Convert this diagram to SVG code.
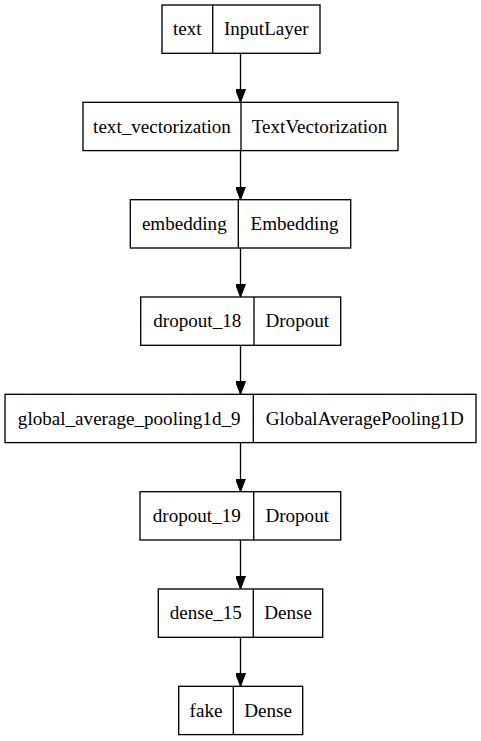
<svg xmlns="http://www.w3.org/2000/svg" width="481" height="741" viewBox="0 0 481 741">
<style>
rect.b{fill:#fff;stroke:#000;stroke-width:1.33}
line.d{stroke:#000;stroke-width:1.33}
text{font-family:"Liberation Serif","Times New Roman",serif;font-size:19.1px;fill:#000;text-anchor:middle}
.e{stroke:#000;stroke-width:1.33;fill:none}
</style>
<defs>
<marker id="ah" markerUnits="userSpaceOnUse" markerWidth="13" markerHeight="10" refX="13" refY="5" orient="auto">
<path d="M0,0 L13,5 L0,10 z" fill="#000" stroke="#000" stroke-width="1"/>
</marker>
</defs>
<rect width="481" height="741" fill="#fff"/>
<g id="connectors">
<line class="e" x1="240.5" y1="53.3" x2="240.5" y2="102.3" marker-end="url(#ah)"/>
<line class="e" x1="240.5" y1="150.7" x2="240.5" y2="199.7" marker-end="url(#ah)"/>
<line class="e" x1="240.5" y1="248" x2="240.5" y2="297" marker-end="url(#ah)"/>
<line class="e" x1="240.5" y1="345.3" x2="240.5" y2="394.3" marker-end="url(#ah)"/>
<line class="e" x1="240.5" y1="442.7" x2="240.5" y2="491.7" marker-end="url(#ah)"/>
<line class="e" x1="240.5" y1="540" x2="240.5" y2="589" marker-end="url(#ah)"/>
<line class="e" x1="240.5" y1="637.3" x2="240.5" y2="686.3" marker-end="url(#ah)"/>
</g>
<g id="text_node">
<rect class="b" x="162" y="5" width="158" height="48.3"/>
<line class="d" x1="212.7" y1="5" x2="212.7" y2="53.3"/>
<text x="187.3" y="35.3">text</text>
<text x="266.3" y="35.3">InputLayer</text>
</g>
<g id="text_vectorization">
<rect class="b" x="83" y="102.3" width="315" height="48.3"/>
<line class="d" x1="241" y1="102.3" x2="241" y2="150.7"/>
<text x="162" y="132.7">text_vectorization</text>
<text x="319.5" y="132.7">TextVectorization</text>
</g>
<g id="embedding">
<rect class="b" x="130.3" y="199.7" width="220.4" height="48.3"/>
<line class="d" x1="238.3" y1="199.7" x2="238.3" y2="248"/>
<text x="184.3" y="230">embedding</text>
<text x="294.5" y="230">Embedding</text>
</g>
<g id="dropout_18">
<rect class="b" x="140.7" y="297" width="200" height="48.3"/>
<line class="d" x1="254" y1="297" x2="254" y2="345.3"/>
<text x="197.3" y="327.3">dropout_18</text>
<text x="297.3" y="327.3">Dropout</text>
</g>
<g id="global_average_pooling1d_9">
<rect class="b" x="5" y="394.3" width="471" height="48.3"/>
<line class="d" x1="253.3" y1="394.3" x2="253.3" y2="442.7"/>
<text x="129.2" y="424.7">global_average_pooling1d_9</text>
<text x="364.7" y="424.7">GlobalAveragePooling1D</text>
</g>
<g id="dropout_19">
<rect class="b" x="140" y="491.7" width="200.7" height="48.3"/>
<line class="d" x1="253.7" y1="491.7" x2="253.7" y2="540"/>
<text x="196.8" y="522">dropout_19</text>
<text x="297.2" y="522">Dropout</text>
</g>
<g id="dense_15">
<rect class="b" x="158.3" y="589" width="164.4" height="48.3"/>
<line class="d" x1="253.3" y1="589" x2="253.3" y2="637.3"/>
<text x="205.8" y="619.3">dense_15</text>
<text x="288" y="619.3">Dense</text>
</g>
<g id="fake">
<rect class="b" x="178.7" y="686.3" width="124" height="48.3"/>
<line class="d" x1="233.3" y1="686.3" x2="233.3" y2="734.7"/>
<text x="206" y="716.7">fake</text>
<text x="268" y="716.7">Dense</text>
</g>
</svg>
